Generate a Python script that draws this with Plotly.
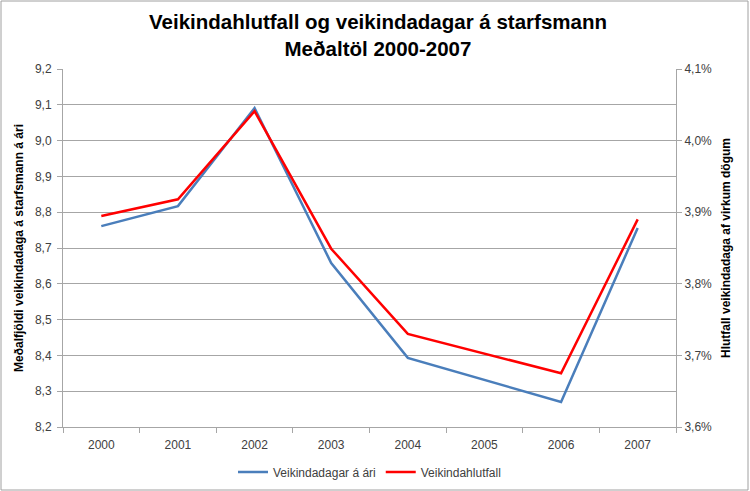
import plotly.graph_objects as go

years = ["2000", "2001", "2002", "2003", "2004", "2005", "2006", "2007"]
veikindadagar = [8.761, 8.817, 9.091, 8.658, 8.393, 8.331, 8.270, 8.756]
veikindahlutfall = [0.038947, 0.03918, 0.04041, 0.03849, 0.03730, 0.03703, 0.03675, 0.03890]

FONT = "Liberation Sans, Arial, sans-serif"
GRID = "#a6a6a6"
TICKC = "#404040"

fig = go.Figure()
fig.add_trace(go.Scatter(x=years, y=veikindadagar, mode="lines", name="Veikindadagar á ári",
                         line=dict(color="#4a7ebb", width=2.5), yaxis="y"))
fig.add_trace(go.Scatter(x=years, y=veikindahlutfall, mode="lines", name="Veikindahlutfall",
                         line=dict(color="#ff0000", width=2.5), yaxis="y2"))

fig.update_layout(
    width=750, height=491,
    margin=dict(l=63, r=74, t=69, b=64, autoexpand=False),
    paper_bgcolor="white", plot_bgcolor="white",
    separators=", ",
    font=dict(family=FONT, size=12, color=TICKC),
    showlegend=True,
    legend=dict(orientation="h", x=0.5, xanchor="center", y=-0.126, yanchor="middle",
                bgcolor="rgba(0,0,0,0)", tracegroupgap=0,
                font=dict(family=FONT, size=12, color=TICKC), itemwidth=30,
                traceorder="normal"),
    xaxis=dict(type="category", range=[-0.5, 7.5], showline=True, linecolor=GRID,
               ticks="outside", tickson="boundaries", ticklen=5, tickcolor=GRID,
               ticklabelstandoff=7,
               showgrid=False, tickfont=dict(size=12, color=TICKC)),
    yaxis=dict(range=[8.2, 9.2], dtick=0.1, tickformat=".1f", showline=True, linecolor=GRID,
               ticks="outside", ticklen=5, tickcolor=GRID, gridcolor=GRID, gridwidth=1,
               ticklabelstandoff=3,
               zeroline=False, tickfont=dict(size=12, color=TICKC),
               title=dict(text="<b>Meðalfjöldi veikindadaga á starfsmann á ári</b>",
                          font=dict(size=12, color="black"), standoff=8)),
    yaxis2=dict(range=[0.036, 0.041], dtick=0.001, tickformat=".1%", overlaying="y", side="right",
                showline=True, linecolor=GRID, ticks="outside", ticklen=5, tickcolor=GRID,
                showgrid=False, zeroline=False, tickfont=dict(size=12, color=TICKC),
                title=dict(text="<b>Hlutfall veikindadaga af virkum dögum</b>",
                           font=dict(size=12, color="black"), standoff=10)),
    annotations=[dict(text="<b>Veikindahlutfall og veikindadagar á starfsmann<br>Meðaltöl 2000-2007</b>",
                      xref="paper", yref="paper", x=(378 - 63) / 613, y=1 + (69 - 8) / 358,
                      xanchor="center", yanchor="top", showarrow=False,
                      font=dict(family=FONT, size=20.5, color="black"))],
    shapes=[dict(type="rect", xref="paper", yref="paper",
                 x0=(1 - 63) / 613, x1=(748 - 63) / 613,
                 y0=-(490 - 427) / 358, y1=1 + (68) / 358,
                 line=dict(color="#a0a0a0", width=1), fillcolor="rgba(0,0,0,0)", layer="below")],
)

fig.write_html("out.html", config={"displayModeBar": False},
               post_script="document.body.style.margin='0';document.body.style.padding='0';")
